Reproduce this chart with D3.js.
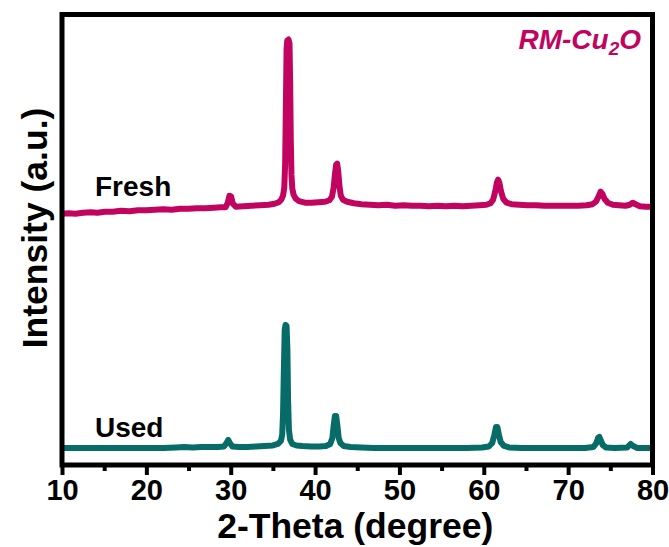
<!DOCTYPE html>
<html>
<head>
<meta charset="utf-8">
<script src="https://cdn.jsdelivr.net/npm/d3@7"></script>
<style>
  html, body { margin: 0; padding: 0; background: #fff; }
  svg { display: block; font-family: "Liberation Sans", Arial, sans-serif; }
</style>
</head>
<body>
<svg id="chart" width="669" height="547"></svg>
<script>
// XRD patterns of RM-Cu2O: [2-theta (deg), intensity (a.u.)]
const freshPattern = [
  [10.0, 62], [10.8, 63], [11.6, 62], [12.5, 64], [13.4, 65], [14.2, 64], [15.1, 66], [16.0, 66],
  [17.0, 68], [18.0, 67], [19.0, 69], [20.0, 69], [21.0, 70], [22.0, 71], [23.0, 70], [24.0, 72],
  [25.0, 72], [26.0, 73], [27.0, 73], [28.0, 74], [28.8, 75], [29.4, 75], [29.65, 84], [29.85, 98],
  [30.05, 96], [30.25, 82], [30.6, 76], [31.5, 77], [32.5, 78], [33.5, 79], [34.5, 80], [35.2, 82],
  [35.7, 85], [36.0, 90], [36.2, 98], [36.35, 114], [36.45, 160], [36.55, 290], [36.62, 390],
  [36.7, 408], [36.85, 410], [36.97, 402], [37.05, 320], [37.12, 210], [37.2, 140], [37.3, 112],
  [37.45, 100], [37.7, 92], [38.1, 87], [38.8, 84], [39.6, 84], [40.4, 85], [41.2, 86], [41.7, 89],
  [42.0, 96], [42.2, 114], [42.35, 140], [42.5, 160], [42.62, 162], [42.75, 146], [42.9, 116],
  [43.05, 98], [43.3, 90], [43.8, 86], [44.6, 83], [45.5, 81], [46.5, 80], [47.5, 79], [48.5, 80],
  [49.5, 78], [50.5, 79], [51.5, 78], [52.5, 78], [53.5, 77], [54.5, 78], [55.5, 77], [56.5, 78],
  [57.5, 77], [58.5, 78], [59.5, 79], [60.3, 80], [60.8, 83], [61.1, 90], [61.35, 106], [61.55, 124],
  [61.7, 130], [61.85, 124], [62.05, 106], [62.3, 92], [62.7, 84], [63.3, 81], [64.2, 80], [65.2, 79],
  [66.2, 79], [67.2, 78], [68.2, 78], [69.2, 78], [70.2, 78], [71.2, 78], [72.2, 79], [72.9, 81],
  [73.3, 86], [73.6, 96], [73.85, 106], [74.05, 102], [74.3, 92], [74.7, 84], [75.3, 80], [76.0, 79],
  [76.8, 78], [77.3, 80], [77.65, 84], [78.0, 81], [78.5, 77], [79.2, 76], [80.0, 76]
];

const usedPattern = [
  [10.0, 34], [12.0, 34], [14.0, 34], [16.0, 34], [18.0, 34], [20.0, 34], [22.0, 34], [23.5, 35],
  [24.5, 36], [25.5, 35], [26.5, 36], [27.5, 36], [28.5, 36], [29.2, 37], [29.5, 44], [29.7, 50],
  [29.9, 44], [30.2, 37], [31.0, 36], [32.0, 36], [33.0, 37], [34.0, 38], [35.0, 39], [35.6, 42],
  [35.95, 48], [36.1, 60], [36.2, 100], [36.3, 190], [36.4, 270], [36.5, 280], [36.62, 278],
  [36.72, 230], [36.8, 130], [36.9, 70], [37.05, 50], [37.3, 42], [37.8, 39], [38.5, 38], [39.5, 37],
  [40.5, 37], [41.3, 38], [41.8, 42], [42.05, 54], [42.2, 78], [42.35, 98], [42.5, 98], [42.65, 78],
  [42.8, 54], [43.0, 44], [43.4, 38], [44.2, 36], [45.5, 35], [47.0, 34], [48.5, 34], [50.0, 34],
  [52.0, 34], [54.0, 34], [56.0, 34], [58.0, 34], [59.8, 35], [60.6, 37], [61.0, 44], [61.25, 60],
  [61.45, 76], [61.6, 76], [61.8, 60], [62.0, 46], [62.4, 38], [63.0, 35], [64.5, 34], [66.0, 34],
  [68.0, 34], [70.0, 34], [72.0, 34], [73.0, 36], [73.35, 44], [73.55, 54], [73.7, 56], [73.85, 50],
  [74.1, 40], [74.5, 35], [75.5, 34], [77.0, 35], [77.4, 42], [77.7, 38], [78.2, 34], [80.0, 34]
];

// vertical shift applied to the fresh pattern so the two traces stack
const freshOffset = 440;

const seriesNames = ["Fresh", "Used"];
const seriesColors = ["#c1045f", "#076c67"];
const majorTicks = [10, 20, 30, 40, 50, 60, 70, 80];
const minorTicks = [15, 25, 35, 45, 55, 65, 75];

const svg = d3.select("#chart");
const plot = { left: 62, right: 652.5, top: 14.5, bottom: 465 };

const x = d3.scaleLinear().domain([10, 80]).range([plot.left, plot.right]);
const y = d3.scaleLinear().domain([0, 900]).range([plot.bottom, plot.top]);

const line = d3.line().x(d => x(d[0])).y(d => y(d[1]));

svg.append("clipPath").attr("id", "plot-clip")
  .append("rect")
  .attr("x", plot.left).attr("y", plot.top)
  .attr("width", plot.right - plot.left).attr("height", plot.bottom - plot.top);

const traces = [
  freshPattern.map(d => [d[0], d[1] + freshOffset]),
  usedPattern
];

svg.append("g").attr("clip-path", "url(#plot-clip)")
  .selectAll("path").data(traces).join("path")
  .attr("d", line)
  .attr("fill", "none")
  .attr("stroke", (d, i) => seriesColors[i])
  .attr("stroke-width", 6)
  .attr("stroke-linejoin", "round");

// bottom axis: major ticks with labels, minor ticks without
const axisG = svg.append("g").attr("transform", `translate(0,${plot.bottom})`);
axisG.call(d3.axisBottom(x).tickValues(majorTicks).tickSize(10).tickSizeOuter(0).tickFormat(d3.format("d")).tickPadding(4));
axisG.select(".domain").remove();
axisG.selectAll(".tick line").attr("stroke", "#000").attr("stroke-width", 4);
axisG.selectAll(".tick text")
  .attr("fill", "#000")
  .style("font-size", "29px").style("font-weight", "bold")
  .style("font-family", "'Liberation Sans', Arial, sans-serif");

const minorG = svg.append("g").attr("transform", `translate(0,${plot.bottom})`);
minorG.call(d3.axisBottom(x).tickValues(minorTicks).tickSize(6).tickSizeOuter(0).tickFormat(""));
minorG.select(".domain").remove();
minorG.selectAll(".tick line").attr("stroke", "#000").attr("stroke-width", 4);

// frame
svg.append("rect")
  .attr("x", plot.left).attr("y", plot.top)
  .attr("width", plot.right - plot.left).attr("height", plot.bottom - plot.top)
  .attr("fill", "none").attr("stroke", "#000").attr("stroke-width", 5);

// axis titles
svg.append("text")
  .attr("x", (plot.left + plot.right) / 2 - 2).attr("y", 538)
  .attr("text-anchor", "middle")
  .style("font-size", "35.5px").style("font-weight", "bold")
  .text("2-Theta (degree)");

svg.append("text")
  .attr("transform", `translate(47,${228}) rotate(-90)`)
  .attr("text-anchor", "middle")
  .style("font-size", "35.5px").style("font-weight", "bold")
  .text("Intensity (a.u.)");

// series labels
const labelY = [196, 437];
svg.selectAll("text.series").data(seriesNames).join("text")
  .attr("class", "series")
  .attr("x", 95).attr("y", (d, i) => labelY[i])
  .style("font-size", "28px").style("font-weight", "bold")
  .text(d => d);

// sample title
const title = svg.append("text")
  .attr("x", 641).attr("y", 49)
  .attr("text-anchor", "end")
  .attr("fill", seriesColors[0])
  .style("font-size", "28px").style("font-weight", "bold").style("font-style", "italic");
title.append("tspan").text("RM-Cu");
title.append("tspan").attr("dy", 6).style("font-size", "19px").text("2");
title.append("tspan").attr("dy", -6).text("O");
</script>
</body>
</html>
